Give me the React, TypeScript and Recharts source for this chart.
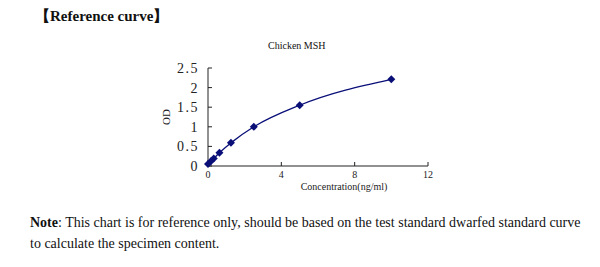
import React from "react";
import { LineChart, Line, XAxis, YAxis } from "recharts";

const concentrations = [0, 0.156, 0.312, 0.625, 1.25, 2.5, 5, 10];
const odValues = [0.05, 0.12, 0.19, 0.34, 0.59, 1.0, 1.55, 2.21];
const xTicks = [0, 4, 8, 12];
const yTicks = [0, 0.5, 1, 1.5, 2, 2.5];

const points = concentrations.map((c, i) => ({ conc: c, od: odValues[i] }));

const NAVY = "#0a0f78";
const SERIF = "'Liberation Serif', 'Times New Roman', serif";

function Diamond(props: any) {
  const { cx, cy, index } = props;
  if (cx == null || cy == null) return null;
  const r = 4;
  return (
    <polygon
      key={index}
      points={`${cx},${cy - r} ${cx + r},${cy} ${cx},${cy + r} ${cx - r},${cy}`}
      fill={NAVY}
    />
  );
}

export default function App() {
  return (
    <div
      style={{
        position: "absolute",
        left: 0,
        top: 0,
        width: 600,
        height: 267,
        background: "#fff",
        fontFamily: SERIF,
        color: "#111",
      }}
    >
      <div
        style={{
          position: "absolute",
          left: 35,
          top: 7,
          fontSize: 15,
          fontWeight: "bold",
          whiteSpace: "nowrap",
        }}
      >
        【Reference curve】
      </div>
      <div
        style={{
          position: "absolute",
          left: 268,
          top: 40,
          fontSize: 10,
          whiteSpace: "nowrap",
        }}
      >
        Chicken MSH
      </div>
      <div style={{ position: "absolute", left: 0, top: 0 }}>
        <LineChart
          width={600}
          height={200}
          data={points}
          margin={{ top: 68, right: 172, left: 150, bottom: 0 }}
        >
          <XAxis
            dataKey="conc"
            type="number"
            domain={[0, 12]}
            ticks={xTicks}
            interval={0}
            height={34}
            stroke="#222"
            tickSize={-4}
            tickMargin={9}
            tick={{ fontSize: 10, fill: "#222", fontFamily: SERIF }}
            label={{
              content: ({ viewBox }: any) => (
                <text
                  x={viewBox.x + 136}
                  y={viewBox.y + 24}
                  textAnchor="middle"
                  fontSize={10}
                  fontFamily={SERIF}
                  fill="#222"
                >
                  Concentration(ng/ml)
                </text>
              ),
            }}
          />
          <YAxis
            type="number"
            domain={[0, 2.5]}
            ticks={yTicks}
            interval={0}
            width={58}
            stroke="#222"
            tickSize={-4}
            tickMargin={13}
            tick={{ fontSize: 14, fill: "#222", fontFamily: SERIF, letterSpacing: 1.5 }}
            label={{
              content: ({ viewBox }: any) => {
                const x = viewBox.x + 20;
                const y = viewBox.y + viewBox.height / 2;
                return (
                  <text
                    x={x}
                    y={y}
                    textAnchor="middle"
                    fontSize={11}
                    fontFamily={SERIF}
                    fill="#222"
                    transform={`rotate(-90, ${x}, ${y})`}
                  >
                    OD
                  </text>
                );
              },
            }}
          />
          <Line
            type="monotone"
            dataKey="od"
            stroke={NAVY}
            strokeWidth={1.3}
            dot={<Diamond />}
            activeDot={false}
            isAnimationActive={false}
          />
        </LineChart>
      </div>
      <div
        style={{
          position: "absolute",
          left: 30,
          top: 212,
          fontSize: 14,
          lineHeight: "21px",
          width: 552,
        }}
      >
        <b>Note</b>: This chart is for reference only, should be based on the test standard dwarfed standard curve
        to calculate the specimen content.
      </div>
    </div>
  );
}
